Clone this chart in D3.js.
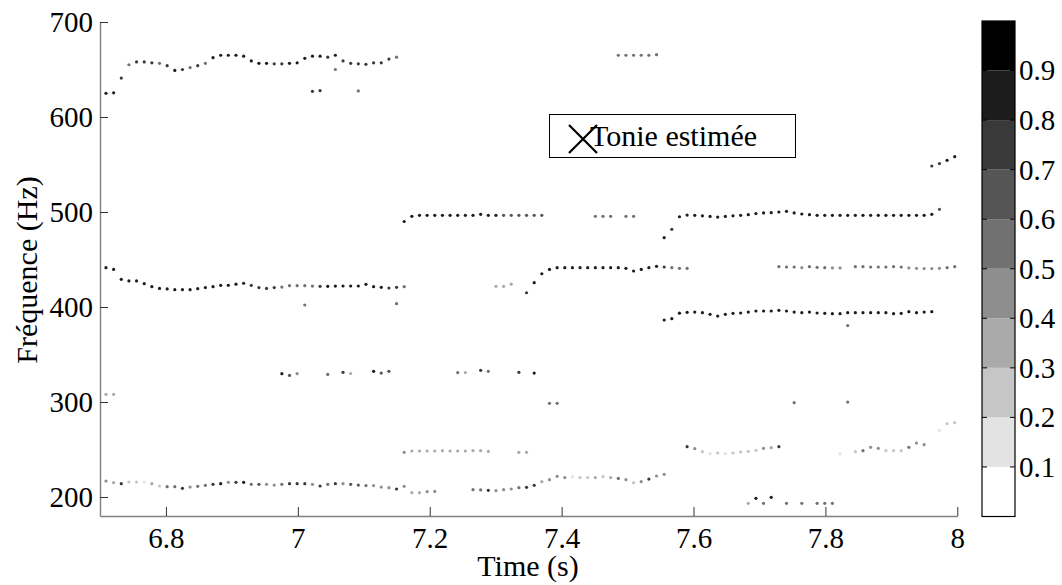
<!DOCTYPE html>
<html><head><meta charset="utf-8">
<script src="https://cdn.jsdelivr.net/npm/d3@7"></script>
<style>
body{margin:0;background:#fff}
svg{display:block}
svg text{font-family:"Liberation Serif","Times New Roman",Times,"Noto Serif","DejaVu Serif",serif !important;fill:#000}
</style>
</head><body>
<svg id="c" width="1062" height="585"></svg>
<script>
// ---- analysis frame grid (frame index k -> time in seconds) ----
const HOP = 0.011595, T_START = 6.70907;

// ---- ticks ----
const xTicks = [6.8, 7, 7.2, 7.4, 7.6, 7.8, 8];
const yTicks = [200, 300, 400, 500, 600, 700];
const cbTicks = [0.1, 0.2, 0.3, 0.4, 0.5, 0.6, 0.7, 0.8, 0.9];
const legendLabel = "Tonie estimée";

// ---- detected pitch points: [frame, frequency (Hz), salience 0..1] ----
const track660 = [[0,625,.85],[1,625.5,.85],[2,641,.72],[3,655,.58],[4,658,.72],[5,658,.72],[6,657,.72],[7,656.5,.58],[8,654,.72],[9,649,.85],[10,650,.72],[11,652,.58],[12,654,.72],[13,656.5,.58],[14,662.5,.85],[15,665,.85],[16,665,.85],[17,665,.85],[18,664,.85],[19,659,.85],[20,656.5,.85],[21,656.5,.85],[22,656,.72],[23,656,.72],[24,656.5,.85],[25,657,.85],[26,661.8,.85],[27,664,.85],[28,664,.85],[29,663,.72],[30,665,.85],[31,659,.72],[32,656.5,.72],[33,656,.72],[34,655.5,.72],[35,657,.72],[36,657,.72],[37,661,.72],[38,663,.58]];
const isolated630 = [[27,627,.72],[28,627.7,.72],[30,650,.58],[33,627.5,.58]];
const track665b = [[67,665,.55],[68,665,.55],[69,665,.55],[70,665,.55],[71,665,.55],[72,665.6,.55]];
const track420 = [[0,441.4,.85],[1,439.6,.85],[2,429.1,.85],[3,427.4,.85],[4,427.4,.85],[5,424.6,.85],[6,421.4,.85],[7,419.6,.85],[8,419,.85],[9,418.2,.85],[10,418.2,.85],[11,418.2,.85],[12,419.3,.85],[13,420.4,.85],[14,421.4,.85],[15,422.8,.85],[16,422.8,.85],[17,424,.85],[18,425,.85],[19,422.8,.72],[20,420.4,.72],[21,419.6,.72],[22,420.4,.72],[23,421,.55],[24,422.5,.55],[25,422.5,.55],[26,422.5,.55],[27,422,.55],[28,421.8,.72],[29,421.8,.85],[30,422,.85],[31,422.1,.85],[32,422.1,.85],[33,422.1,.85],[34,423.9,.85],[35,421.4,.85],[36,420.7,.85],[37,420,.72],[38,420.7,.72],[39,421.4,.58]];
const isolated400 = [[26,402.1,.55],[38,403.5,.55],[97,380.4,.55]];
const track497a = [[39,490,.85],[40,495.4,.85],[41,496.5,.85],[42,496.5,.85],[43,496.5,.85],[44,496.5,.85],[45,496.5,.85],[46,496.5,.85],[47,496.5,.85],[48,496.5,.85],[49,497.6,.85],[50,496.5,.85],[51,496.5,.85],[52,496.5,.6],[53,496.5,.6],[54,496.5,.6],[55,496.5,.6],[56,496.5,.6],[57,496.5,.6]];
const track497b = [[64,495.4,.55],[65,495.4,.55],[66,495.4,.55],[68,495.4,.55],[69,495.4,.55]];
const track497c = [[73,473,.8],[74,481.8,.72],[75,495,.85],[76,496.8,.85],[77,496.5,.85],[78,496,.85],[79,495.3,.85],[80,494.7,.85],[81,495.3,.85],[82,496,.85],[83,496.5,.85],[84,497.2,.85],[85,498.3,.85],[86,499,.85],[87,499.3,.85],[88,500,.85],[89,500.7,.85],[90,499,.85],[91,497.9,.85],[92,497.2,.85],[93,496.5,.85],[94,496.5,.85],[95,496.5,.85],[96,496.5,.85],[97,496.5,.85],[98,496.5,.85],[99,496.5,.85],[100,496.5,.85],[101,496.5,.85],[102,496.5,.85],[103,496.5,.85],[104,496.5,.85],[105,496.5,.85],[106,496.5,.85],[107,496.5,.85],[108,497.6,.85],[109,502.8,.6]];
const track555 = [[108,548.4,.72],[109,551,.72],[110,554.4,.85],[111,558.2,.85]];
const track440a = [[55,415,.72],[56,425.6,.85],[57,435,.85],[58,439.6,.85],[59,441.4,.85],[60,441.4,.85],[61,441.4,.85],[62,441.4,.85],[63,441.4,.85],[64,441.4,.85],[65,441.4,.85],[66,441.4,.85],[67,441.4,.85],[68,440.7,.85],[69,437.9,.85],[70,439.6,.85],[71,441.4,.85],[72,442.8,.85],[73,442.1,.72],[74,441.4,.55],[75,440.7,.55],[76,440.7,.55]];
const track422 = [[51,421.8,.35],[52,421.8,.35],[53,424,.35]];
const track440b = [[88,442.5,.55],[89,442.1,.55],[90,442.1,.55],[91,441.4,.45],[92,442.5,.55],[93,441.8,.55],[94,441.4,.55],[95,441.1,.45],[96,441.1,.45],[98,442.5,.55],[99,442.5,.55],[100,442.1,.55],[101,442.1,.55],[102,442.1,.55],[103,442.5,.55],[104,442.1,.55],[105,441.1,.45],[106,440.7,.45],[107,440.4,.45],[108,440.4,.45],[109,440.7,.45],[110,441.4,.55],[111,442.5,.55]];
const track395 = [[73,386.3,.8],[74,387.7,.8],[75,393.5,.85],[76,394.4,.85],[77,394.7,.85],[78,394,.85],[79,392.3,.85],[80,390.5,.85],[81,392.3,.85],[82,393.3,.85],[83,393.7,.85],[84,394.7,.85],[85,395.8,.85],[86,395.8,.85],[87,395.8,.85],[88,396.5,.85],[89,395.8,.85],[90,394.7,.85],[91,394,.85],[92,394.7,.85],[93,393.7,.85],[94,393.3,.85],[95,393,.85],[96,393,.85],[97,394,.85],[98,394,.85],[99,394,.85],[100,394,.85],[101,394,.85],[102,394,.85],[103,393,.85],[104,393.3,.85],[105,395.1,.85],[106,394,.85],[107,394.7,.85],[108,395.1,.85]];
const points330 = [[23,329.8,.8],[24,328,.6],[25,329.8,.4],[29,329,.55],[31,331.2,.72],[32,330,.35],[35,332.3,.8],[36,330.5,.6],[37,332.3,.6],[46,331,.55],[47,331,.35],[49,333.3,.75],[50,332.3,.55],[54,331.2,.75],[56,330.5,.8]];
const points300 = [[0,308.1,.3],[1,308.1,.3],[58,298.6,.5],[59,298.6,.5],[90,299.3,.5],[97,299.9,.55]];
const track248 = [[39,247,.45],[40,248.4,.35],[41,248.4,.35],[42,248.4,.35],[43,248.4,.35],[44,248.8,.35],[45,248.4,.35],[46,248.4,.35],[47,248.4,.35],[48,248.8,.35],[49,248.8,.35],[50,248,.3],[54,247,.35],[55,247,.35]];
const track210 = [[0,216.8,.48],[1,215.1,.35],[2,214,.72],[3,215.8,.28],[4,215.8,.28],[5,215.8,.18],[6,214,.35],[7,211.6,.28],[8,210.9,.58],[9,210.9,.58],[10,209.1,.72],[11,210.5,.42],[12,211.2,.58],[13,212.3,.58],[14,213.3,.72],[15,214,.8],[16,215.4,.48],[17,215.4,.72],[18,215.4,.8],[19,213.3,.58],[20,213.3,.65],[21,213.3,.48],[22,212.6,.42],[23,213.3,.58],[24,214,.72],[25,214,.72],[26,214,.72],[27,213.3,.42],[28,211.6,.72],[29,213.3,.58],[30,214,.72],[31,214,.45],[32,213.3,.62],[33,212.6,.62],[34,212,.58],[35,212,.48],[36,210.5,.48],[37,209.8,.48],[38,208.4,.72],[39,211.2,.42],[40,204.6,.35],[41,204.6,.35],[42,205.6,.42],[43,205.9,.42],[48,207.7,.58],[49,207.4,.58],[50,207,.72],[51,206.7,.48],[52,207.7,.48],[53,208.4,.48],[54,209.8,.58],[55,210.2,.72],[56,212.3,.72],[57,216.1,.35],[58,218.2,.42],[59,221.8,.42],[60,220.4,.42],[61,221.4,.18],[62,220.4,.28],[63,220.4,.28],[64,220.4,.35],[65,221.4,.28],[66,220.4,.35],[67,219.6,.58],[68,218.2,.48],[69,215.1,.28],[70,216.1,.48],[71,218.9,.72],[72,222.1,.48],[73,223.9,.48]];
const track250 = [[76,253,.72],[77,250.9,.48],[78,247.7,.28],[79,245.6,.18],[80,246.3,.28],[81,245.6,.18],[82,246.3,.28],[83,247.4,.28],[84,248,.28],[85,249.1,.28],[86,251.2,.48],[87,251.9,.35],[88,253,.72],[96,245.3,.18],[98,247.7,.28],[99,248.8,.58],[100,252.3,.48],[101,251.2,.48],[102,248.8,.28],[103,248.8,.28],[104,248.8,.28],[105,252.3,.58],[106,256.8,.48],[107,255.1,.48],[109,270.2,.18],[110,277.2,.28],[111,278.2,.28]];
const points195 = [[84,193.3,.3],[85,198.6,.85],[86,193.3,.55],[87,199.7,.85],[89,193.3,.5],[91,193.3,.5],[93,193.3,.5],[94,193.3,.5],[95,193.3,.5]];

const allPoints = [].concat(track660, isolated630, track665b, track420, isolated400, track497a, track497b,
  track497c, track555, track440a, track422, track440b, track395, points330, points300, track248,
  track210, track250, points195);

// ---- drawing ----
const FONT = '"Liberation Serif","Times New Roman",Times,"Noto Serif","DejaVu Serif",serif';
const svg = d3.select("#c");
const x = d3.scaleLinear().domain([6.7, 8]).range([100, 957.3]);
const y = d3.scaleLinear().domain([180, 700]).range([516, 22]);
const greys = d3.range(10).map(i => { const g = Math.round(255 * (1 - i / 9)); return d3.rgb(g, g, g).formatHex(); });
const color = d3.scaleQuantize().domain([0, 1]).range(greys);

// points
svg.append("g").selectAll("circle").data(allPoints).join("circle")
  .attr("cx", d => x(T_START + d[0] * HOP))
  .attr("cy", d => y(d[1]))
  .attr("r", 1.6)
  .attr("fill", d => color(d[2]));

// axes
const fmt = d3.format("~g");
const gx = svg.append("g").attr("transform", "translate(0,516)")
  .call(d3.axisBottom(x).tickValues(xTicks).tickFormat(fmt).tickSize(-9).tickSizeOuter(0).tickPadding(11));
const gy = svg.append("g").attr("transform", "translate(100,0)")
  .call(d3.axisLeft(y).tickValues(yTicks).tickFormat(fmt).tickSize(-8).tickSizeOuter(0).tickPadding(7));
[gx, gy].forEach(g => {
  g.attr("font-family", FONT);
  g.select(".domain").attr("stroke", "#808080").attr("stroke-width", 1.4);
  g.selectAll(".tick line").attr("stroke", "#333").attr("stroke-width", 1);
  g.selectAll(".tick text").attr("font-size", 29).attr("font-family", FONT).attr("fill", "#000");
});

// axis labels
svg.append("text").attr("x", 528).attr("y", 576).attr("text-anchor", "middle")
  .attr("font-family", FONT).attr("font-size", 30).text("Time (s)");
svg.append("text").attr("transform", "translate(37,270) rotate(-90)").attr("text-anchor", "middle")
  .attr("font-family", FONT).attr("font-size", 30).text("Fréquence (Hz)");

// legend
const lg = svg.append("g");
lg.append("rect").attr("x", 549.5).attr("y", 114.5).attr("width", 246).attr("height", 43)
  .attr("fill", "#fff").attr("stroke", "#000").attr("stroke-width", 1);
lg.append("path").attr("d", "M569,125L597,153M597,125L569,153")
  .attr("stroke", "#000").attr("stroke-width", 2.2).attr("fill", "none");
lg.append("text").attr("x", 590).attr("y", 146).attr("font-family", FONT).attr("font-size", 30).text(legendLabel);

// colorbar
const cb = d3.scaleLinear().domain([0, 1]).range([516.5, 21]);
const cbX = 982, cbW = 33;
const cbg = svg.append("g");
cbg.selectAll("rect.band").data(greys).join("rect").attr("class", "band")
  .attr("x", cbX).attr("width", cbW)
  .attr("y", (d, i) => cb((i + 1) / 10)).attr("height", (d, i) => cb(i / 10) - cb((i + 1) / 10))
  .attr("fill", d => d);
cbg.append("rect").attr("x", cbX).attr("y", cb(1)).attr("width", cbW).attr("height", cb(0) - cb(1))
  .attr("fill", "none").attr("stroke", "#000").attr("stroke-width", 1.2);
const cbt = cbg.selectAll("g.t").data(cbTicks).join("g").attr("class", "t");
cbt.append("line").attr("x1", cbX + cbW).attr("x2", cbX + cbW - 5).attr("y1", d => cb(d)).attr("y2", d => cb(d))
  .attr("stroke", "#000");
cbt.append("line").attr("x1", cbX).attr("x2", cbX + 5).attr("y1", d => cb(d)).attr("y2", d => cb(d))
  .attr("stroke", "#000");
cbt.append("text").attr("x", cbX + cbW + 4).attr("y", d => cb(d)).attr("dy", "0.34em")
  .attr("font-family", FONT).attr("font-size", 29).text(d => fmt(d));
</script>
</body></html>
